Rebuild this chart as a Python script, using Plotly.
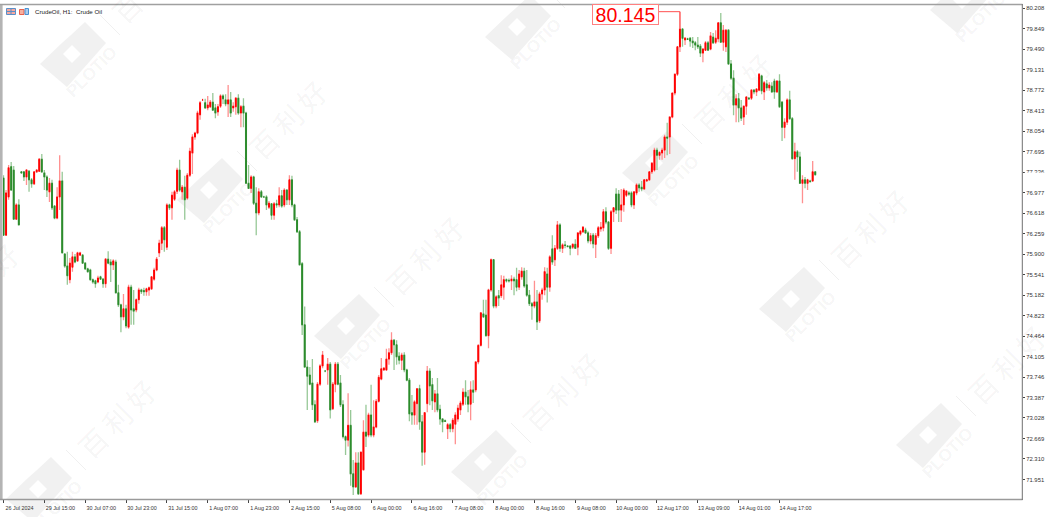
import plotly.graph_objects as go

opens = [77.23,76.23,76.90,77.43,77.37,76.51,76.76,77.34,77.34,77.25,
77.35,77.20,77.13,77.34,77.35,77.56,77.32,77.25,76.99,77.14,
76.74,76.53,76.90,77.18,75.90,75.69,75.45,75.67,75.85,75.78,
75.88,75.88,75.74,75.64,75.62,75.45,75.43,75.41,75.50,75.46,
75.38,75.81,75.76,75.71,75.76,75.22,75.01,74.80,74.94,74.62,
75.32,74.94,74.92,75.10,75.27,75.26,75.24,75.27,75.29,75.46,
75.62,75.92,76.09,76.36,76.02,76.76,76.71,76.86,77.00,77.37,
76.99,77.07,76.88,77.28,77.67,77.95,78.02,78.34,78.60,78.55,
78.46,78.48,78.56,78.46,78.39,78.49,78.67,78.60,78.53,78.60,
78.46,78.48,78.63,78.37,78.49,78.37,77.14,77.05,77.25,76.79,
76.62,76.99,76.90,76.90,76.72,76.78,76.58,76.78,76.76,76.92,
76.76,77.02,76.85,77.20,76.76,76.50,76.29,75.73,74.66,73.92,
73.78,73.64,73.26,72.98,73.62,73.94,73.85,73.87,73.97,73.19,
73.62,73.97,73.64,73.26,72.70,72.64,72.90,72.05,71.82,72.24,
71.70,72.12,72.78,72.73,73.08,72.73,72.87,73.32,73.71,73.87,
73.87,74.06,74.17,74.39,74.31,74.11,74.04,74.13,73.87,73.69,
73.12,73.08,73.28,73.54,72.96,72.43,73.28,73.85,73.61,73.31,
73.45,73.18,73.01,72.98,72.84,72.91,72.84,72.92,73.01,73.17,
73.27,73.48,73.40,73.27,73.52,73.52,74.01,74.30,74.85,74.83,
74.47,75.27,75.80,74.99,75.17,75.17,75.32,75.45,75.44,75.43,75.46,
75.45,75.32,75.50,75.60,75.36,75.18,75.03,74.99,75.06,74.73,
75.20,75.27,75.55,75.32,75.99,75.80,76.00,76.41,76.00,76.06,
76.04,76.04,76.02,76.07,76.02,76.25,76.29,76.32,76.27,76.13,
76.23,76.07,76.22,76.34,76.36,76.64,76.46,76.00,76.64,76.95,
76.95,76.67,76.76,76.93,76.97,76.97,76.76,76.97,77.11,77.07,
77.04,77.18,77.20,77.34,77.37,77.72,77.63,77.67,77.72,77.95,
77.95,78.30,78.72,79.05,79.53,79.84,79.65,79.67,79.68,79.63,
79.60,79.56,79.54,79.42,79.47,79.60,79.49,79.70,79.61,79.67,
79.95,79.61,79.53,79.82,79.23,78.98,78.51,78.62,78.46,78.30,
78.49,78.63,78.63,78.77,78.74,78.77,79.02,78.74,78.88,78.81,
78.84,78.93,78.74,78.93,78.56,78.12,78.21,78.60,78.27,77.57,
77.69,77.60,77.14,77.20,77.14,77.18,77.18,77.34]

highs = [77.28,77.02,77.46,77.51,77.44,76.79,76.86,77.35,77.35,77.39,
77.37,77.23,77.35,77.39,77.58,77.65,77.37,77.28,77.23,77.20,
76.76,77.07,77.63,77.34,75.92,75.94,75.83,75.94,75.90,75.94,
75.94,75.90,75.76,75.66,75.64,75.47,75.45,75.52,75.52,75.48,
75.83,75.95,75.81,75.81,75.80,75.36,75.03,75.20,75.01,75.36,
75.36,75.27,75.12,75.31,75.29,75.31,75.31,75.33,75.50,75.66,
75.85,76.15,76.39,76.39,76.79,76.78,76.99,77.02,77.41,77.55,
77.11,77.27,77.32,77.76,78.00,78.04,78.41,78.58,78.62,78.62,
78.67,78.60,78.72,78.53,78.53,78.70,78.70,78.70,78.86,78.74,
78.56,78.65,78.70,78.51,78.63,78.39,77.46,77.28,77.27,77.07,
77.05,77.02,76.92,76.93,76.83,76.79,76.81,76.85,77.07,77.02,
77.05,77.04,77.28,77.27,76.78,76.55,76.32,75.76,74.98,74.04,
73.92,74.06,73.34,73.66,73.97,74.20,73.87,74.08,74.01,73.66,
74.01,74.01,73.78,73.34,72.72,73.46,73.17,72.29,72.43,72.43,
72.43,72.99,73.26,73.12,73.61,73.34,73.36,73.78,74.08,73.92,
74.24,74.25,74.53,74.41,74.39,74.18,74.17,74.18,73.89,73.73,
73.43,73.34,73.55,73.61,73.08,73.12,73.94,73.90,73.73,73.52,
73.73,73.26,73.03,73.00,72.94,72.94,73.03,73.13,73.26,73.33,
73.55,73.69,73.52,73.67,73.69,74.01,74.32,74.88,75.10,75.10,
75.29,75.82,75.81,75.18,75.27,75.53,75.52,75.47,75.47,75.53,75.50,
75.66,75.62,75.67,75.66,75.62,75.27,75.06,75.43,75.27,75.24,
75.31,75.67,75.66,75.88,76.23,76.06,76.48,76.44,76.09,76.13,
76.06,76.06,76.09,76.16,76.27,76.32,76.39,76.36,76.30,76.27,
76.27,76.27,76.39,76.46,76.69,76.72,76.48,76.67,76.72,77.05,
77.02,77.04,77.05,77.02,77.00,77.00,77.00,77.14,77.14,77.18,
77.20,77.22,77.34,77.51,77.76,77.76,77.70,77.76,77.99,78.20,
78.30,78.72,79.05,79.54,80.145,79.86,79.70,79.69,79.70,79.70,
79.63,79.70,79.58,79.51,79.63,79.63,79.79,79.77,79.82,79.96,
80.12,79.91,79.84,79.84,79.30,79.12,78.70,78.72,78.60,78.49,
78.67,78.65,78.79,78.79,78.81,79.07,79.04,78.93,78.95,78.91,
78.91,78.97,78.95,79.05,78.58,78.28,78.63,78.76,78.30,77.85,
77.72,77.69,77.28,77.25,77.22,77.20,77.53,77.35]

lows = [76.23,76.22,76.85,77.02,76.50,76.50,76.41,77.31,77.18,77.11,
76.99,77.06,77.11,77.32,77.34,77.32,77.02,76.90,76.81,76.67,
76.51,76.51,76.67,75.92,75.66,75.36,75.39,75.59,75.74,75.76,
75.87,75.73,75.62,75.57,75.43,75.38,75.31,75.39,75.45,75.31,
75.31,75.72,75.41,75.62,75.21,74.97,74.53,74.74,74.60,74.59,
74.66,74.66,74.88,75.03,75.20,75.17,75.17,75.17,75.27,75.43,
75.60,75.85,75.97,75.94,75.97,76.67,76.50,76.83,76.95,76.99,
76.85,76.50,76.85,77.25,77.30,77.90,78.00,78.25,78.58,78.44,
78.42,78.46,78.41,78.28,78.32,78.46,78.53,78.49,78.30,78.30,
78.39,78.34,78.34,78.12,78.12,77.14,77.05,76.97,76.76,76.23,
76.58,76.88,76.88,76.67,76.69,76.50,76.50,76.71,76.72,76.71,
76.72,76.76,76.76,76.72,76.48,76.27,75.71,74.48,73.92,73.17,
73.60,73.17,72.94,72.94,73.59,73.90,73.83,73.61,73.02,73.17,
73.48,73.60,73.22,72.67,72.38,72.53,71.84,71.68,71.80,71.68,
71.68,72.12,72.52,72.69,72.69,72.69,72.85,73.30,73.69,73.85,
73.85,73.96,74.13,73.87,73.96,73.97,73.87,73.83,73.67,72.97,
72.91,72.91,72.91,72.82,72.19,72.21,73.13,73.25,73.17,73.13,
73.13,72.91,72.78,72.96,72.66,72.78,72.78,72.57,72.96,73.08,
73.24,73.26,73.13,72.99,73.29,73.48,73.97,74.28,74.78,74.45,
74.25,75.24,74.95,74.95,74.99,75.13,75.10,75.40,75.40,75.27,75.18,
75.25,75.27,75.45,75.31,75.15,74.99,74.75,74.95,74.57,74.69,
75.10,75.18,75.05,75.24,75.71,75.69,75.97,75.94,75.92,76.00,
76.02,75.88,75.99,75.99,75.88,76.22,76.27,76.25,76.09,76.07,
76.00,75.83,76.18,76.29,76.30,76.42,75.97,75.90,76.46,76.60,
76.46,76.46,76.64,76.90,76.92,76.72,76.69,76.93,76.99,77.00,
77.02,77.16,77.18,77.30,77.34,77.37,77.55,77.55,77.58,77.63,
77.65,78.28,78.68,79.02,79.44,79.53,79.56,79.65,79.53,79.51,
79.47,79.49,79.35,79.26,79.47,79.46,79.47,79.58,79.58,79.61,
79.60,79.46,79.44,79.21,78.95,78.33,78.21,78.21,78.23,78.16,
78.34,78.60,78.60,78.70,78.67,78.75,78.70,78.60,78.76,78.76,
78.72,78.62,78.72,78.46,77.88,77.93,78.16,78.25,77.55,77.20,
77.34,77.13,76.79,77.05,77.02,77.15,77.16,77.27]

closes = [76.23,76.97,77.41,77.02,76.51,76.76,76.41,77.32,77.25,77.37,
77.20,77.13,77.34,77.37,77.56,77.34,77.25,77.02,77.14,76.71,
76.53,76.90,77.18,75.92,75.69,75.52,75.74,75.85,75.76,75.92,
75.92,75.74,75.64,75.59,75.45,75.41,75.38,75.48,75.46,75.38,
75.81,75.74,75.71,75.78,75.22,75.01,74.80,74.94,74.64,75.32,
74.92,74.90,75.10,75.27,75.24,75.24,75.29,75.31,75.50,75.62,
75.81,76.09,76.36,76.15,76.76,76.71,76.93,76.99,77.37,77.02,
77.07,76.85,77.28,77.70,77.95,78.02,78.37,78.55,78.60,78.46,
78.51,78.56,78.42,78.37,78.48,78.67,78.62,78.53,78.60,78.37,
78.49,78.63,78.37,78.48,78.37,77.14,77.05,77.25,76.79,76.62,
76.99,76.90,76.90,76.76,76.79,76.58,76.78,76.76,76.92,76.74,
77.02,76.85,77.20,76.76,76.50,76.29,75.71,74.66,73.92,73.76,
73.62,73.26,72.96,73.62,73.94,74.13,73.85,73.97,73.17,73.62,
73.97,73.62,73.26,72.70,72.64,72.90,72.05,71.82,72.24,71.70,
72.43,72.78,72.71,73.08,72.73,72.87,73.32,73.74,73.89,73.90,
74.06,74.17,74.39,74.31,74.10,74.04,74.13,73.87,73.69,73.10,
73.08,73.31,73.54,72.96,72.43,73.12,73.85,73.59,73.33,73.45,
73.17,73.01,72.96,72.97,72.91,72.84,72.99,73.08,73.20,73.29,
73.48,73.40,73.27,73.52,73.48,74.01,74.30,74.87,74.80,74.47,
75.27,75.80,74.99,75.15,75.13,75.36,75.45,75.43,75.43,75.46,75.43,
75.32,75.55,75.60,75.34,75.18,75.03,74.99,75.06,74.71,75.20,
75.27,75.59,75.32,75.85,75.76,76.00,76.41,76.00,76.06,76.05,
76.03,76.00,76.07,76.00,76.27,76.30,76.37,76.27,76.13,76.22,
76.08,76.22,76.36,76.37,76.64,76.46,76.00,76.64,76.71,76.67,
76.67,76.76,77.02,77.00,76.95,76.76,76.99,77.11,77.06,77.04,
77.20,77.20,77.34,77.49,77.72,77.63,77.68,77.72,77.95,77.93,
78.30,78.72,79.05,79.53,79.84,79.68,79.68,79.66,79.63,79.60,
79.56,79.53,79.42,79.49,79.60,79.47,79.72,79.60,79.68,79.95,
79.61,79.82,79.82,79.23,78.98,78.51,78.62,78.46,78.28,78.49,
78.65,78.62,78.77,78.74,78.79,79.05,78.76,78.90,78.81,78.86,
78.74,78.74,78.93,78.48,78.12,78.21,78.60,78.27,77.57,77.69,
77.60,77.14,77.20,77.14,77.20,77.17,77.34,77.29]

price_ticks = [80.208,79.849,79.490,79.131,78.772,78.413,78.054,77.695,77.336,76.977,76.618,76.259,75.900,
               75.541,75.182,74.823,74.464,74.105,73.746,73.387,73.028,72.669,72.310,71.951]
time_tick_bars = list(range(0, 320, 16))
time_labels = ["26 Jul 2024","29 Jul 15:00","30 Jul 07:00","30 Jul 23:00","31 Jul 15:00","1 Aug 07:00","1 Aug 23:00",
               "2 Aug 15:00","5 Aug 08:00","6 Aug 00:00","6 Aug 16:00","7 Aug 08:00","8 Aug 00:00","8 Aug 16:00",
               "9 Aug 08:00","10 Aug 00:00","12 Aug 17:00","13 Aug 09:00","14 Aug 01:00","14 Aug 17:00"]
high_label = "80.145"
chart_title = "CrudeOil, H1:  Crude Oil"

W, H = 1048, 517
L, R, T, B = 3, 1022, 5, 499
def fx(px): return (px - L) / (R - L)
def fy(py): return 1 - (py - T) / (B - T)

RED, GREEN = "#ff0000", "#2a8a2a"
RED_W, GREEN_W = "#ff9090", "#97c897"
bars = list(range(len(closes)))
body_hi = [max(o, c) for o, c in zip(opens, closes)]
body_lo = [min(o, c) for o, c in zip(opens, closes)]

fig = go.Figure()
fig.add_trace(go.Candlestick(x=bars, open=opens, high=highs, low=lows, close=closes,
    increasing=dict(line=dict(color=RED_W, width=1.3), fillcolor=RED_W),
    decreasing=dict(line=dict(color=GREEN_W, width=1.3), fillcolor=GREEN_W),
    whiskerwidth=0, showlegend=False, hoverinfo="skip"))
fig.add_trace(go.Candlestick(x=bars, open=opens, high=body_hi, low=body_lo, close=closes,
    increasing=dict(line=dict(color=RED, width=1), fillcolor=RED),
    decreasing=dict(line=dict(color=GREEN, width=1), fillcolor=GREEN),
    whiskerwidth=0, showlegend=False, hoverinfo="skip"))

peak = highs.index(max(highs))
fig.add_trace(go.Scatter(x=[peak - 8.5, peak, peak], y=[highs[peak], highs[peak], closes[peak]],
    mode="lines", line=dict(color="#ff5050", width=1), showlegend=False, hoverinfo="skip"))

shapes, annos = [], []
def poly(points, cx, cy, fill):
    d = "M " + " L ".join(f"{fx(cx + a)} {fy(cy + b)}" for a, b in points) + " Z"
    return dict(type="path", xref="paper", yref="paper", path=d, fillcolor=fill, line=dict(width=0), layer="below")

LOGO = [(10,-35),(31,-14),(-8,30),(-35,7),(-13,-14),(-4,-22)]
HOLE = [(-3,-12),(6,-3),(-3,6),(-12,-3)]
WM = "#f1f1f1"
for cx, cy in [(75,57),(212,193),(349,329),(486,465),(520,30),(657,166),(794,302),(931,438),(965,3),(41,492),(-96,356)]:
    shapes.append(poly(LOGO, cx, cy, WM))
    shapes.append(poly(HOLE, cx, cy, "#ffffff"))
    shapes.append(dict(type="line", xref="paper", yref="paper", x0=fx(cx+25), y0=fy(cy-42), x1=fx(cx+45), y1=fy(cy-22),
                       line=dict(color="#f0f0f0", width=1), layer="below"))
    annos.append(dict(x=fx(cx+16), y=fy(cy+15), xref="paper", yref="paper", text="<b>PLOTIO</b>", textangle=-45, showarrow=False,
                      font=dict(family="Liberation Sans", size=17, color="rgba(0,0,0,0.055)"), xanchor="center", yanchor="middle"))
    if cy - 73 > -30 and cx + 75 < 1090:
        annos.append(dict(x=fx(cx+75), y=fy(cy-73), xref="paper", yref="paper", text="百\u2009利\u2009好", textangle=-45, showarrow=False,
                          font=dict(family="Noto Sans CJK SC", size=28, color="rgba(0,0,0,0.055)"), xanchor="center", yanchor="middle"))

# frame
shapes += [
    dict(type="rect", xref="paper", yref="paper", x0=fx(0), x1=fx(2.6), y0=fy(4), y1=fy(500), fillcolor="#b4b4b4", line=dict(width=0), layer="above"),
    dict(type="line", xref="paper", yref="paper", x0=fx(0), x1=fx(1022.5), y0=fy(4.4), y1=fy(4.4), line=dict(color="#a0a0a0", width=1.5), layer="above"),
    dict(type="line", xref="paper", yref="paper", x0=fx(0), x1=fx(1022.5), y0=fy(499.6), y1=fy(499.6), line=dict(color="#9a9a9a", width=1.5), layer="above"),
    dict(type="line", xref="paper", yref="paper", x0=fx(1022.3), x1=fx(1022.3), y0=fy(4), y1=fy(500), line=dict(color="#707070", width=1), layer="above"),
    dict(type="rect", xref="paper", yref="paper", x0=fx(1024.5), x1=fx(1048), y0=fy(172.6), y1=fy(178), fillcolor="#ffffff", line=dict(width=0), layer="above"),
    dict(type="rect", xref="paper", yref="paper", x0=fx(6.5), x1=fx(15.5), y0=fy(8.5), y1=fy(14.5), fillcolor="#f7a9a0", line=dict(color="#5a8fc8", width=1), layer="above"),
    dict(type="line", xref="paper", yref="paper", x0=fx(6.5), x1=fx(15.5), y0=fy(11.5), y1=fy(11.5), line=dict(color="#5a8fc8", width=1), layer="above"),
    dict(type="line", xref="paper", yref="paper", x0=fx(11), x1=fx(11), y0=fy(8.5), y1=fy(14.5), line=dict(color="#5a8fc8", width=1), layer="above"),
    dict(type="rect", xref="paper", yref="paper", x0=fx(19.5), x1=fx(24), y0=fy(9.5), y1=fy(14.5), fillcolor="#f7b0a0", line=dict(color="#e8604c", width=1), layer="above"),
    dict(type="rect", xref="paper", yref="paper", x0=fx(25), x1=fx(28.5), y0=fy(8.5), y1=fy(14.5), fillcolor="#a8cdf0", line=dict(color="#4a90d0", width=1), layer="above"),
]

annos.append(dict(x=fx(33), y=fy(11.3), xref="paper", yref="paper", text=chart_title, showarrow=False, xanchor="left", yanchor="middle",
                  font=dict(family="Liberation Sans", size=6.2, color="#222222")))
annos.append(dict(x=fx(658.5), y=fy(14), xref="paper", yref="paper", text=high_label, showarrow=False, xanchor="right", yanchor="middle",
                  font=dict(family="Liberation Sans", size=19.5, color="#ff0000"), bordercolor="#ff8080", borderwidth=1, borderpad=0,
                  bgcolor="#ffffff", width=65, height=19, align="center"))

fig.update_layout(width=W, height=H, autosize=False, plot_bgcolor="rgba(0,0,0,0)", paper_bgcolor="#ffffff",
    margin=dict(l=L, r=W-R, t=T, b=H-B), showlegend=False, boxgap=0.55, boxmode="overlay",
    shapes=shapes, annotations=annos, hovermode=False,
    xaxis=dict(range=[-0.2, 399], rangeslider=dict(visible=False), showgrid=False, zeroline=False, showline=False,
               tickmode="array", tickvals=time_tick_bars, ticktext=time_labels, ticks="outside", ticklen=3, tickcolor="#444444", tickwidth=1,
               ticklabelshift=16, ticklabelstandoff=1, tickangle=0, tickfont=dict(family="Liberation Sans", size=5.4, color="#333333")),
    yaxis=dict(range=[71.609, 80.262], side="right", showgrid=False, zeroline=False, showline=False,
               tickmode="array", tickvals=price_ticks, ticktext=[f"{v:.3f}" for v in price_ticks], ticks="outside", ticklen=2, tickcolor="#444444", tickwidth=1,
               tickfont=dict(family="Liberation Sans", size=5.9, color="#333333")))

fig.write_html("out.html", config=dict(displayModeBar=False),
               post_script="document.documentElement.style.margin='0';document.body.style.margin='0';document.body.style.overflow='hidden';")
